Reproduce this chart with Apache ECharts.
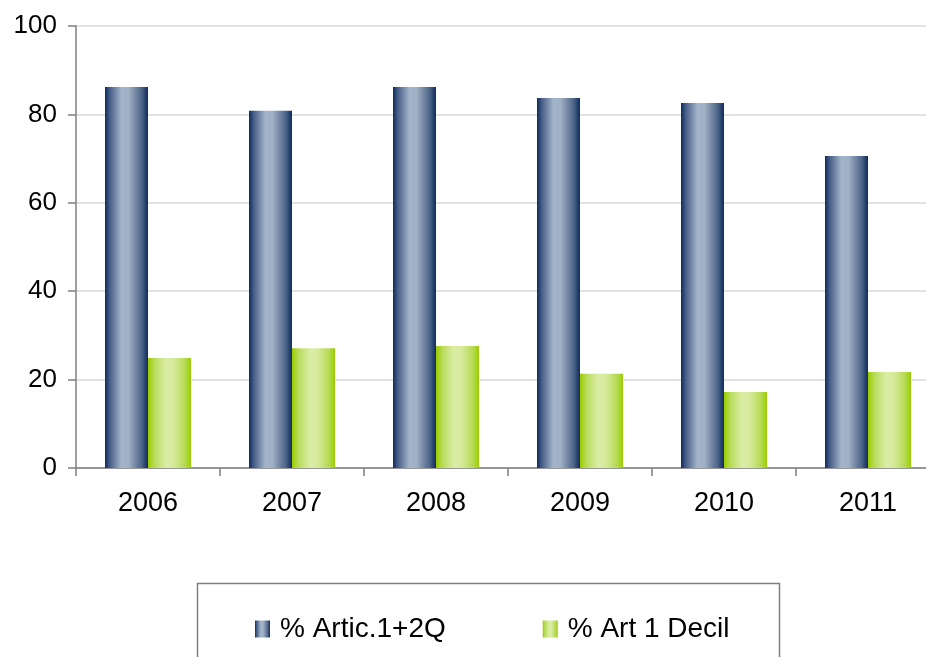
<!DOCTYPE html>
<html>
<head>
<meta charset="utf-8">
<script src="https://cdn.jsdelivr.net/npm/echarts@6/dist/echarts.min.js"></script>
<style>
html,body{margin:0;padding:0;background:#fff;overflow:hidden;width:926px;height:657px;}
#c{width:942px;height:657px;}
</style>
</head>
<body>
<div id="c"></div>
<script>
const categories = ['2006','2007','2008','2009','2010','2011'];
const seriesNames = ['% Artic.1+2Q','% Art 1 Decil'];
const articValues = [86.2, 80.8, 86.2, 83.7, 82.6, 70.6];
const decilValues = [24.9, 27.1, 27.6, 21.3, 17.2, 21.7];
const yTicks = [0, 20, 40, 60, 80, 100];

const chart = echarts.init(document.getElementById('c'), null, {renderer:'canvas'});
const blueGrad = new echarts.graphic.LinearGradient(0,0,1,0,[
  {offset:0, color:'#0e2c5e'},
  {offset:0.12, color:'#4a6189'},
  {offset:0.38, color:'#a3b5c9'},
  {offset:0.55, color:'#9fb0c4'},
  {offset:0.85, color:'#4f6589'},
  {offset:1, color:'#0e2c5e'}
]);
const greenGrad = new echarts.graphic.LinearGradient(0,0,1,0,[
  {offset:0, color:'#99cc00'},
  {offset:0.15, color:'#b8dc5a'},
  {offset:0.42, color:'#dbeda5'},
  {offset:0.6, color:'#d6eb9c'},
  {offset:0.88, color:'#b2d84a'},
  {offset:1, color:'#99cc00'}
]);
const font = 'Liberation Sans';
chart.setOption({
  animation:false,
  backgroundColor:'#fff',
  grid:{left:76, top:26, right:2, bottom:189, containLabel:false},
  xAxis:{
    type:'category', data:categories,
    axisLine:{lineStyle:{color:'#7f7f7f', width:1.5}},
    axisTick:{show:true, length:8, lineStyle:{color:'#7f7f7f', width:1.5}},
    axisLabel:{fontFamily:font, fontSize:27, color:'#000', margin:22, letterSpacing:-0.8}
  },
  yAxis:{
    type:'value', min:yTicks[0], max:yTicks[yTicks.length-1], interval:20,
    axisLine:{show:true, lineStyle:{color:'#7f7f7f', width:1.5}},
    axisTick:{show:true, length:8, lineStyle:{color:'#7f7f7f', width:1.5}},
    axisLabel:{fontFamily:font, fontSize:26, color:'#000', margin:19},
    splitLine:{lineStyle:{color:'#d9d9d9', width:1.5}}
  },
  legend:{
    left:250, top:610, itemWidth:15, itemHeight:17, itemGap:97, icon:'rect',
    textStyle:{fontFamily:font, fontSize:28, color:'#000', padding:[0,0,0,5]},
    data:seriesNames
  },
  graphic:[{
    type:'rect', left:195, top:581,
    shape:{width:582, height:100},
    style:{fill:null, stroke:'#7f7f7f', lineWidth:1.5}
  }],
  series:[
    {name:seriesNames[0], type:'bar', data:articValues, barWidth:43, barGap:'0%',
     itemStyle:{color:blueGrad}},
    {name:seriesNames[1], type:'bar', data:decilValues, barWidth:43, barGap:'0%',
     itemStyle:{color:greenGrad}}
  ]
});
</script>
</body>
</html>
